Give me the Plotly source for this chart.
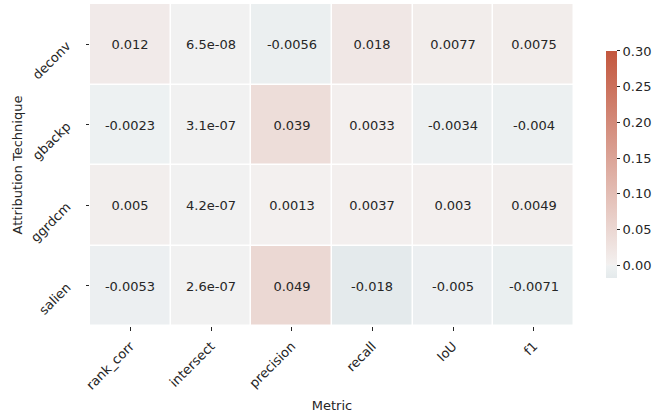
import plotly.graph_objects as go

metrics = ["rank_corr", "intersect", "precision", "recall", "IoU", "f1"]
techniques = ["deconv", "gbackp", "ggrdcm", "salien"]

deconv = [0.012, 6.5e-08, -0.0056, 0.018, 0.0077, 0.0075]
gbackp = [-0.0023, 3.1e-07, 0.039, 0.0033, -0.0034, -0.004]
ggrdcm = [0.005, 4.2e-07, 0.0013, 0.0037, 0.003, 0.0049]
salien = [-0.0053, 2.6e-07, 0.049, -0.018, -0.005, -0.0071]

cbar_ticks = [0.0, 0.05, 0.10, 0.15, 0.20, 0.25, 0.30]

z = [deconv, gbackp, ggrdcm, salien]
labels = [[f"{v:.2g}" for v in row] for row in z]

vmax = 0.30
vmin = min(min(r) for r in z)

# diverging palette centred on zero (blue side -> light gray -> red side)
blue = (75, 125, 145)
neg_gray = (238, 241, 242)
mid = (241, 241, 241)
pos_gray = (243, 240, 239)
red = (195, 87, 62)


def lerp(a, b, t):
    return tuple(round(a[i] + (b[i] - a[i]) * t) for i in range(3))


def rgb(c):
    return f"rgb({c[0]},{c[1]},{c[2]})"


def frac(v):
    return (v - vmin) / (vmax - vmin)


low = lerp(neg_gray, blue, abs(vmin) / vmax)
colorscale = [
    [0.0, rgb(low)],
    [frac(-0.0012), rgb(neg_gray)],
    [frac(0.0), rgb(mid)],
    [frac(0.0012), rgb(pos_gray)],
    [1.0, rgb(red)],
]

font = "DejaVu Sans"
ink = "#262626"
fs = 13

fig = go.Figure(
    go.Heatmap(
        z=z,
        x=metrics,
        y=techniques,
        text=labels,
        texttemplate="%{text}",
        textfont=dict(family=font, size=fs, color=ink),
        colorscale=colorscale,
        zmin=vmin,
        zmax=vmax,
        xgap=1.5,
        ygap=1.5,
        hoverinfo="skip",
        colorbar=dict(
            x=1.066,
            xanchor="left",
            y=0.5016,
            yanchor="middle",
            len=227,
            lenmode="pixels",
            thickness=11,
            xpad=0,
            ypad=0,
            outlinewidth=0,
            tickvals=cbar_ticks,
            tickformat=".2f",
            ticks="outside",
            ticklen=3.5,
            tickwidth=1,
            tickcolor=ink,
            tickfont=dict(family=font, size=fs, color=ink),
        ),
    )
)

fig.update_layout(
    width=657,
    height=416,
    margin=dict(l=90, r=83, t=4, b=90),
    paper_bgcolor="white",
    plot_bgcolor="white",
    font=dict(family=font, color=ink),
)

fig.update_xaxes(
    title=dict(text="Metric", font=dict(family=font, size=fs, color=ink), standoff=9),
    tickangle=-45,
    ticks="outside",
    ticklen=3.5,
    tickcolor=ink,
    ticklabelstandoff=3,
    tickfont=dict(family=font, size=fs, color=ink),
    showgrid=False,
    zeroline=False,
    showline=False,
)
fig.update_yaxes(
    title=dict(text="Attribution Technique", font=dict(family=font, size=fs, color=ink), standoff=2),
    autorange="reversed",
    tickangle=-45,
    ticks="outside",
    ticklen=3.5,
    tickcolor=ink,
    ticklabelstandoff=16,
    tickfont=dict(family=font, size=fs, color=ink),
    showgrid=False,
    zeroline=False,
    showline=False,
)

fig.write_html("out.html")
